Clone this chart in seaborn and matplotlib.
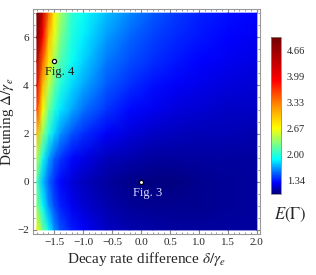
import numpy as np
import seaborn as sns
import matplotlib.pyplot as plt
from matplotlib.colors import LinearSegmentedColormap

# grid
delta = [-1.8, -1.7, -1.6, -1.5, -1.4, -1.2, -1.0, -0.6, -0.2, 0.2, 0.6, 1.0, 1.5, 2.0]
detuning = [-2, -1, 0, 1, 2, 3, 4, 5, 6, 7]
E = [
    [2.75, 2.25, 1.90, 1.65, 1.50, 1.36, 1.28, 1.18, 1.13, 1.11, 1.10, 1.10, 1.10, 1.10],
    [2.30, 1.90, 1.65, 1.48, 1.38, 1.27, 1.20, 1.12, 1.08, 1.06, 1.06, 1.07, 1.08, 1.09],
    [2.10, 1.75, 1.55, 1.40, 1.32, 1.22, 1.16, 1.09, 1.05, 1.03, 1.04, 1.06, 1.08, 1.09],
    [2.45, 1.95, 1.70, 1.53, 1.44, 1.32, 1.25, 1.16, 1.12, 1.10, 1.10, 1.10, 1.10, 1.10],
    [3.00, 2.35, 2.00, 1.80, 1.66, 1.50, 1.40, 1.29, 1.22, 1.18, 1.16, 1.15, 1.14, 1.13],
    [3.60, 2.70, 2.25, 2.00, 1.85, 1.70, 1.58, 1.42, 1.32, 1.26, 1.22, 1.20, 1.18, 1.17],
    [4.10, 3.05, 2.50, 2.20, 2.00, 1.82, 1.70, 1.52, 1.40, 1.33, 1.28, 1.25, 1.22, 1.20],
    [4.50, 3.45, 2.80, 2.40, 2.15, 1.92, 1.80, 1.60, 1.48, 1.40, 1.34, 1.30, 1.27, 1.24],
    [4.80, 3.90, 3.05, 2.60, 2.30, 1.98, 1.86, 1.68, 1.55, 1.46, 1.39, 1.34, 1.30, 1.27],
    [5.00, 4.30, 3.40, 2.75, 2.42, 2.03, 1.92, 1.75, 1.62, 1.52, 1.44, 1.38, 1.33, 1.30],
]
cbar_ticks = [1.34, 2.00, 2.67, 3.33, 3.99, 4.66]
points_x = [-1.5, 0.0]
points_y = [5.0, 0.0]

sns.set_style("ticks")
plt.rcParams['font.family'] = ['Liberation Serif', 'DejaVu Serif']
plt.rcParams['mathtext.fontset'] = 'stix'

cmap = LinearSegmentedColormap.from_list("mma", [
    (0.0, "#00007a"), (0.07, "#0000ff"), (0.14, "#0070ff"), (0.22, "#00ffff"),
    (0.32, "#80ff80"), (0.42, "#ffff00"), (0.55, "#ff9900"), (0.72, "#ff0000"),
    (1.0, "#700000")])

fig = plt.figure(figsize=(3.16, 2.75), dpi=100)
ax = fig.add_axes([0.104, 0.149, 0.718, 0.818])

X, Y = np.meshgrid(delta, detuning)
mesh = ax.pcolormesh(X, Y, np.array(E), cmap=cmap, vmin=1.01, vmax=5.0,
                     shading='gouraud', rasterized=True)

ax.scatter(points_x, points_y, s=9, facecolor='white', edgecolor='black',
           linewidth=0.9, zorder=3)
ax.text(-1.4, 4.55, "Fig. 4", ha='center', va='center', fontsize=9, color='#202020')
ax.text(0.12, -0.45, "Fig. 3", ha='center', va='center', fontsize=9, color='#d8d8ff')

ax.set_xlim(-1.87, 2.05)
ax.set_ylim(-2.17, 7.17)
xt = [-1.5, -1.0, -0.5, 0.0, 0.5, 1.0, 1.5, 2.0]
ax.set_xticks(xt)
ax.set_xticklabels([f"{v:.1f}".replace('-', '\u2212') for v in xt])
ax.set_yticks([-2, 0, 2, 4, 6])
ax.set_yticklabels(['\u22122', '0', '2', '4', '6'])
ax.minorticks_on()
ax.tick_params(which='both', direction='in', top=True, right=True,
               color='#888888', labelsize=8, pad=3)
ax.tick_params(which='major', length=3)
ax.tick_params(which='minor', length=1.5)
for s in ax.spines.values():
    s.set_color('#999999')
    s.set_linewidth(0.8)

ax.set_xlabel(r"Decay rate difference $\delta/\gamma_e$", fontsize=11, labelpad=2)
ax.set_ylabel(r"Detuning $\Delta/\gamma_e$", fontsize=11, labelpad=1)

cax = fig.add_axes([0.858, 0.295, 0.032, 0.571])
cb = fig.colorbar(mesh, cax=cax, ticks=cbar_ticks)
cb.ax.set_yticklabels([f"{t:.2f}" for t in cbar_ticks])
cb.ax.tick_params(labelsize=7.5, length=0, pad=4)
cb.outline.set_edgecolor('#888888')
cb.outline.set_linewidth(0.6)
fig.text(0.918, 0.218, r"$E(\Gamma)$", ha='center', va='center', fontsize=12)

fig.savefig("out.png", dpi=100)
